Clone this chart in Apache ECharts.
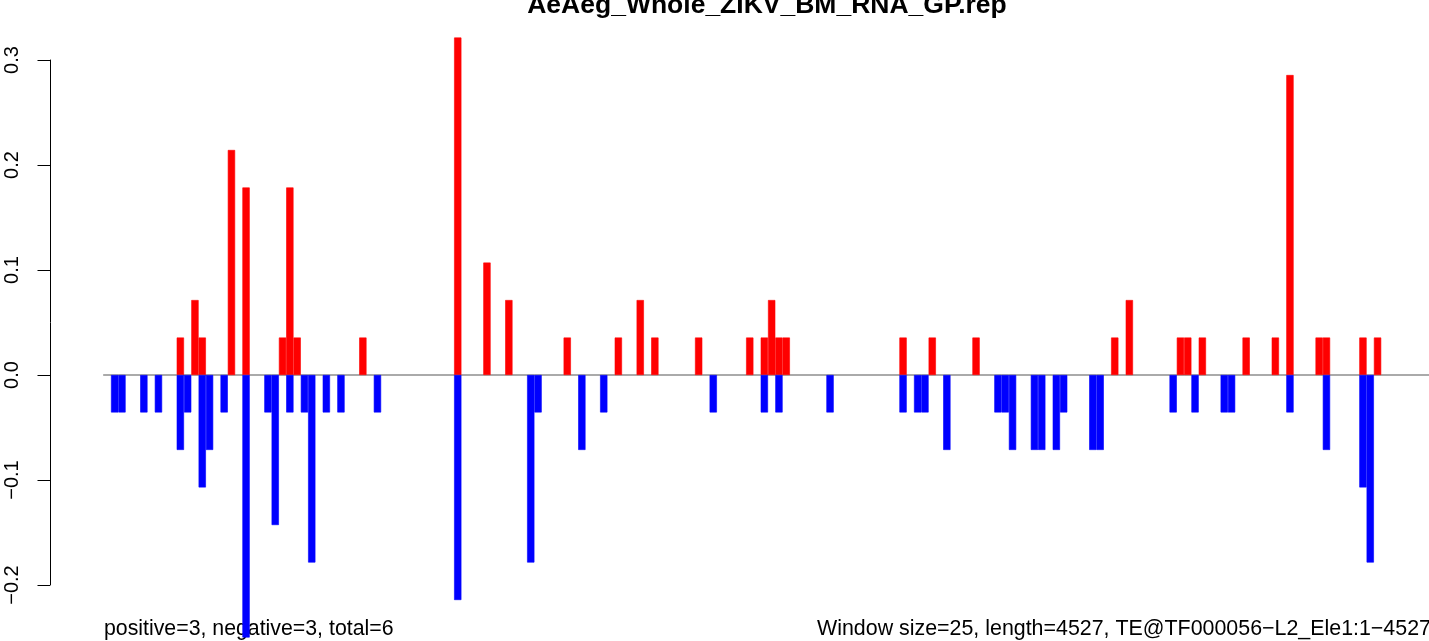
<!DOCTYPE html>
<html>
<head>
<meta charset="utf-8">
<style>
html,body{margin:0;padding:0;background:#fff;}
#chart{width:1429px;height:641px;}
</style>
<script src="https://cdn.jsdelivr.net/npm/echarts@6/dist/echarts.min.js"></script>
</head>
<body>
<div id="chart"></div>
<script>
// ---- data ----
var titleText = 'AeAeg_Whole_ZIKV_BM_RNA_GP.rep';
var leftNote = 'positive=3, negative=3, total=6';
var rightNote = 'Window size=25, length=4527, TE@TF000056\u2212L2_Ele1:1\u22124527';
var windowCount = 182;
var yTickValues = [-0.2, -0.1, 0.0, 0.1, 0.2, 0.3];
var yTickLabels = ['\u22120.2', '\u22120.1', '0.0', '0.1', '0.2', '0.3'];

// positive (red) windows and values
var posWindows = [10, 12, 13, 17, 19, 24, 25, 26, 35, 48, 52, 55, 63, 70, 73, 75, 81, 88, 90, 91, 92, 93, 109, 113, 119, 138, 140, 147, 148, 150, 156, 160, 162, 166, 167, 172, 174];
var posValues  = [0.0357, 0.0714, 0.0357, 0.2143, 0.1786, 0.0357, 0.1786, 0.0357, 0.0357, 0.3214, 0.1071, 0.0714, 0.0357, 0.0357, 0.0714, 0.0357, 0.0357, 0.0357, 0.0357, 0.0714, 0.0357, 0.0357, 0.0357, 0.0357, 0.0357, 0.0357, 0.0714, 0.0357, 0.0357, 0.0357, 0.0357, 0.0357, 0.2857, 0.0357, 0.0357, 0.0357, 0.0357];

// negative (blue) windows and values
var negWindows = [1, 2, 5, 7, 10, 11, 13, 14, 16, 19, 22, 23, 25, 27, 28, 30, 32, 37, 48, 58, 59, 65, 68, 83, 90, 92, 99, 109, 111, 112, 115, 122, 123, 124, 127, 128, 130, 131, 135, 136, 146, 149, 153, 154, 162, 167, 172, 173];
var negValues  = [-0.0357, -0.0357, -0.0357, -0.0357, -0.0714, -0.0357, -0.1071, -0.0714, -0.0357, -0.25, -0.0357, -0.1429, -0.0357, -0.0357, -0.1786, -0.0357, -0.0357, -0.0357, -0.2143, -0.1786, -0.0357, -0.0714, -0.0357, -0.0357, -0.0357, -0.0357, -0.0357, -0.0357, -0.0357, -0.0357, -0.0714, -0.0357, -0.0357, -0.0714, -0.0714, -0.0714, -0.0714, -0.0357, -0.0714, -0.0714, -0.0357, -0.0357, -0.0357, -0.0357, -0.0357, -0.0714, -0.1071, -0.1786];

// ---- build ----
var categories = [''];
var posData = [null], negData = [null];
for (var w = 1; w <= windowCount; w++) { categories.push(String(w)); posData.push(null); negData.push(null); }
posWindows.forEach(function (w, i) { posData[w] = posValues[i]; });
negWindows.forEach(function (w, i) { negData[w] = negValues[i]; });

var FONT = '"Liberation Sans", Arial, Helvetica, sans-serif';
var barPitch = 7.3;
var gridLeft = 103.7;

var chart = echarts.init(document.getElementById('chart'), null, {renderer: 'canvas'});
chart.setOption({
  animation: false,
  backgroundColor: '#ffffff',
  grid: {left: gridLeft, top: 60, height: 525, width: barPitch * categories.length,
         containLabel: false, outerBoundsMode: 'none'},
  xAxis: {
    type: 'category',
    data: categories,
    boundaryGap: true,
    axisLine: {show: true, onZero: true, lineStyle: {color: '#8f8f8f', width: 1.5}},
    axisTick: {show: false},
    axisLabel: {show: false},
    splitLine: {show: false}
  },
  yAxis: {
    type: 'value',
    min: -0.2, max: 0.3, interval: 0.1,
    position: 'left',
    offset: gridLeft - 50,
    axisLine: {show: true, lineStyle: {color: '#000', width: 1}},
    axisTick: {show: true, length: 12.5, lineStyle: {color: '#000', width: 1}},
    splitLine: {show: false},
    axisLabel: {
      rotate: 90, margin: 28, color: '#000', fontSize: 20, fontFamily: FONT,
      formatter: function (v) {
        for (var i = 0; i < yTickValues.length; i++) if (Math.abs(v - yTickValues[i]) < 1e-9) return yTickLabels[i];
        return '';
      }
    }
  },
  series: [
    {type: 'bar', name: 'positive', data: posData, barWidth: '100%', barGap: '-100%', barCategoryGap: 0,
     clip: false, itemStyle: {color: '#ff0000', borderColor: '#ff0000', borderWidth: 0.6}, z: 3},
    {type: 'bar', name: 'negative', data: negData, barWidth: '100%', barGap: '-100%', barCategoryGap: 0,
     clip: false, itemStyle: {color: '#0000ff', borderColor: '#0000ff', borderWidth: 0.6}, z: 3}
  ],
  graphic: [
    {type: 'text', x: 767, y: 5.8, silent: true,
     style: {text: titleText, font: 'bold 26.5px ' + FONT, fill: '#000', align: 'center', verticalAlign: 'middle', textAlign: 'center', textVerticalAlign: 'middle'}},
    {type: 'text', x: 104, y: 628.7, silent: true,
     style: {text: leftNote, font: '21.3px ' + FONT, fill: '#000', align: 'left', verticalAlign: 'middle', textAlign: 'left', textVerticalAlign: 'middle'}},
    {type: 'text', x: 817, y: 628.7, silent: true,
     style: {text: rightNote, font: '21.4px ' + FONT, fill: '#000', align: 'left', verticalAlign: 'middle', textAlign: 'left', textVerticalAlign: 'middle'}}
  ]
});
</script>
</body>
</html>
